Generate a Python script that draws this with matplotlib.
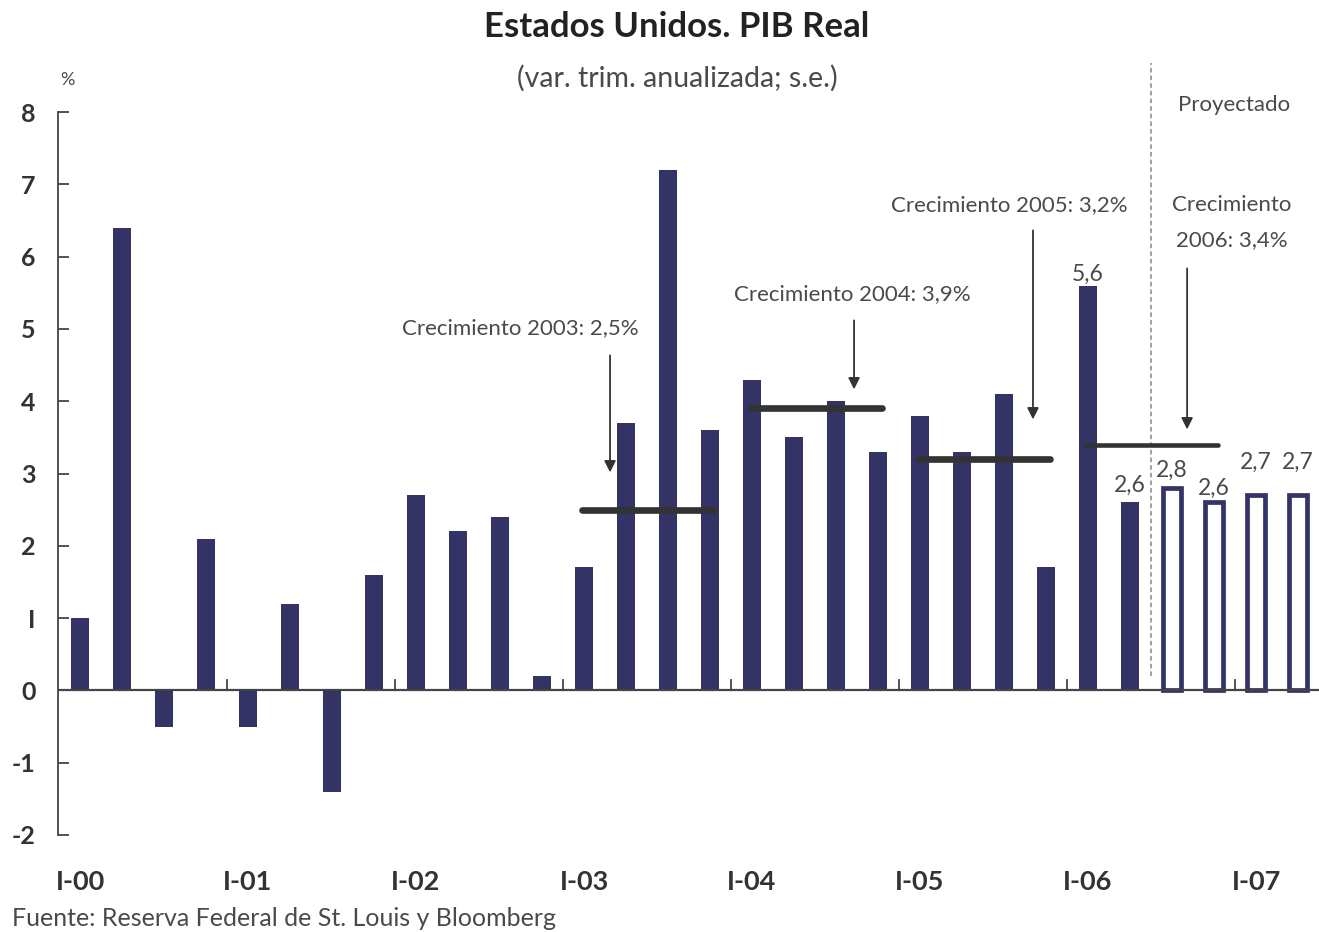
import matplotlib
matplotlib.use("Agg")
import matplotlib.pyplot as plt

plt.rcParams['font.family'] = ['Lato', 'DejaVu Sans']
plt.rcParams['axes.unicode_minus'] = False

# ---- data ----
quarters = ['I-00', 'II-00', 'III-00', 'IV-00',
            'I-01', 'II-01', 'III-01', 'IV-01',
            'I-02', 'II-02', 'III-02', 'IV-02',
            'I-03', 'II-03', 'III-03', 'IV-03',
            'I-04', 'II-04', 'III-04', 'IV-04',
            'I-05', 'II-05', 'III-05', 'IV-05',
            'I-06', 'II-06', 'III-06', 'IV-06',
            'I-07', 'II-07']
values = [1.0, 6.4, -0.5, 2.1,
          -0.5, 1.2, -1.4, 1.6,
          2.7, 2.2, 2.4, 0.2,
          1.7, 3.7, 7.2, 3.6,
          4.3, 3.5, 4.0, 3.3,
          3.8, 3.3, 4.1, 1.7,
          5.6, 2.6, 2.8, 2.6,
          2.7, 2.7]
projected = [False] * 26 + [True] * 4
labelled = {24: '5,6', 25: '2,6', 26: '2,8', 27: '2,6', 28: '2,7', 29: '2,7'}
growth_years = [2003, 2004, 2005, 2006]
growth_values = [2.5, 3.9, 3.2, 3.4]
growth_texts = ['Crecimiento 2003: 2,5%', 'Crecimiento 2004: 3,9%',
                'Crecimiento 2005: 3,2%', 'Crecimiento\n2006: 3,4%']
yticks = [-2, -1, 0, 1, 2, 3, 4, 5, 6, 7, 8]
ytick_labels = ['-2', '-1', '0', 'I', '2', '3', '4', '5', '6', '7', '8']

NAVY = '#333366'
DARK = '#333333'
GRAY = '#4a4a4a'

W, H = 1319, 932
fig = plt.figure(figsize=(W / 100, H / 100), dpi=100)
ax = fig.add_axes([58 / W, 1 - 835 / H, 1 - 58 / W, (835 - 112) / H])


def py(p):
    """pixel row -> data y (layout helper)"""
    return (690 - p) / 72.3


x = list(range(len(values)))
xs_f = [i for i in x if not projected[i]]
vs_f = [values[i] for i in x if not projected[i]]
xs_p = [i for i in x if projected[i]]
vs_p = [values[i] for i in x if projected[i]]

ax.bar(xs_f, vs_f, width=0.43, color=NAVY, zorder=3)
ax.bar(xs_p, vs_p, width=0.45, facecolor='white', edgecolor=NAVY,
       linewidth=3.4, zorder=3)

label_gap_px = {24: 5, 25: 11, 26: 11, 27: 8, 28: 26, 29: 26}
for i, t in labelled.items():
    ax.annotate(t, (i, values[i]), xytext=(0, label_gap_px[i] * 0.72),
                textcoords='offset points', ha='center', va='baseline',
                fontsize=16.5, color=GRAY, zorder=5)

# zero line and year-boundary ticks
ax.axhline(0, color='#444444', lw=1.6, zorder=4)
for k in range(1, 8):
    b = 4 * k - 0.5
    ax.plot([b, b], [0, 0.15], color='#444444', lw=1.3, zorder=4)

# annual growth lines
text_x = [10.48, 18.38, 22.12, 27.43]
text_base = [334, 300, 211, 211]
arrow_x = [12.62, 18.43, 22.69, 26.36]
arrow_tail = [355, 320, 230, 268]
arrow_tip = [472, 389, 419, 429]
line_w = [4.8, 4.8, 4.8, 3.3]
for yr, g, t, tx, tb, axx, tail, tip, lw in zip(growth_years, growth_values, growth_texts,
                                                text_x, text_base, arrow_x,
                                                arrow_tail, arrow_tip, line_w):
    s = 4 * (yr - 2000)
    ax.plot([s - 0.05, s + 3.1], [g, g], color=DARK, lw=lw,
            solid_capstyle='round', zorder=6)
    for j, line in enumerate(t.split('\n')):
        ax.text(tx, py(tb + 35 * j), line, ha='center', va='baseline',
                fontsize=16, color=GRAY, zorder=6)
    ax.annotate('', xy=(axx, py(tip)), xytext=(axx, py(tail)),
                arrowprops=dict(arrowstyle='-|>', color=DARK, lw=1.3,
                                mutation_scale=17, shrinkA=0, shrinkB=0),
                zorder=6)

# projection divider
ax.plot([25.5, 25.5], [py(676), py(63)], color='#888888', lw=1.1, ls=(0, (3, 2)),
        clip_on=False, zorder=2)
ax.text(27.48, py(111), 'Proyectado', ha='center', va='baseline', fontsize=16,
        color=GRAY)

ax.set_xlim(-22 / 42, (W - 80) / 42)
ax.set_ylim(-2, 8)

ax.spines['top'].set_visible(False)
ax.spines['right'].set_visible(False)
ax.spines['bottom'].set_visible(False)
ax.spines['left'].set_bounds(-2, 8)
ax.spines['left'].set_color('#444444')
ax.spines['left'].set_linewidth(1.3)

ax.set_yticks(yticks)
ax.set_yticklabels(ytick_labels, fontsize=18, fontweight='bold', color=DARK)
ax.tick_params(axis='y', direction='in', length=8, width=1.3, color='#444444', pad=16)

ax.set_xticks(list(range(0, len(values), 4)))
ax.set_xticklabels(quarters[::4], fontsize=19.5, fontweight='bold', color=DARK)
ax.tick_params(axis='x', length=0, pad=25)

ax.text(-0.31, py(80), '%', ha='center', va='center', fontsize=13, color=GRAY)

fig.text(677 / W, 1 - 37 / H, 'Estados Unidos. PIB Real', ha='center', va='baseline',
         fontsize=25, fontweight='bold', color='#222222')
fig.text(677 / W, 1 - 87 / H, '(var. trim. anualizada; s.e.)', ha='center', va='baseline',
         fontsize=20.5, color=GRAY)
fig.text(12 / W, 1 - 926 / H, 'Fuente: Reserva Federal de St. Louis y Bloomberg',
         ha='left', va='baseline', fontsize=18, color=GRAY)

fig.savefig('out.png', dpi=100)
